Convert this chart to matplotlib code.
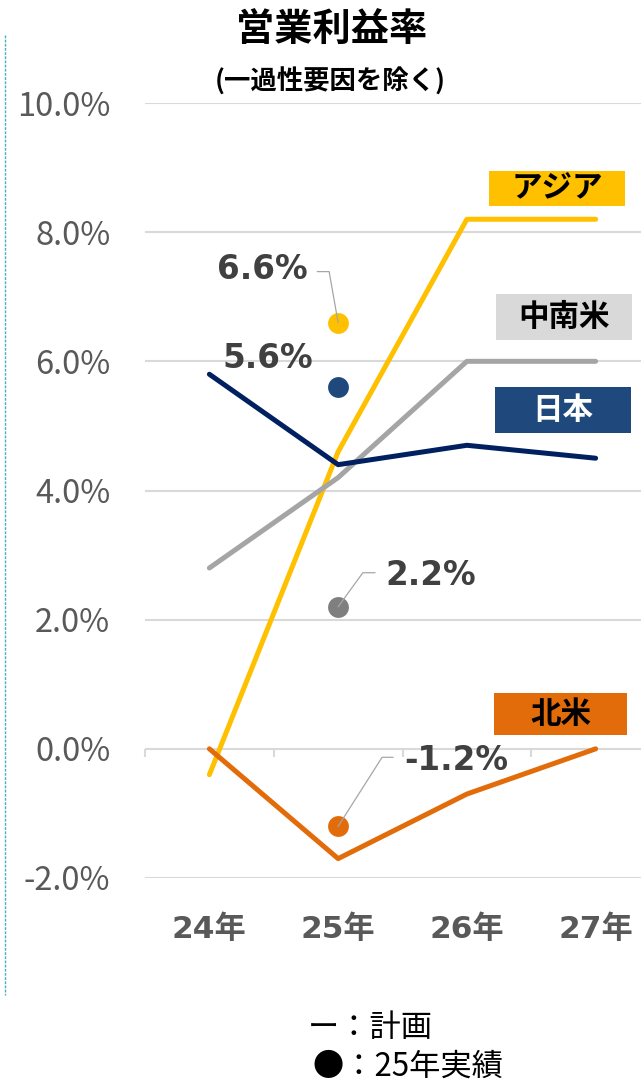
import matplotlib
matplotlib.use('Agg')
import matplotlib.pyplot as plt
from matplotlib.patches import Rectangle
from matplotlib.lines import Line2D
import numpy as np

plt.rcParams['font.family'] = ['Noto Sans CJK JP', 'DejaVu Sans']

# data
years = ['24年', '25年', '26年', '27年']
japan_plan = [5.8, 4.4, 4.7, 4.5]
asia_plan = [-0.4, 4.6, 8.2, 8.2]
latam_plan = [2.8, 4.2, 6.0, 6.0]
na_plan = [0.0, -1.7, -0.7, 0.0]

# 25年実績
actual_names = ['アジア', '日本', '中南米', '北米']
actual_vals = [6.6, 5.6, 2.2, -1.2]

yticks = [-2, 0, 2, 4, 6, 8, 10]

W, H = 641, 1082
fig = plt.figure(figsize=(W / 100, H / 100), dpi=100)
ax = fig.add_axes([145 / W, (H - 878) / H, (660 - 145) / W, (878 - 103) / H])
ax.set_xlim(-0.5, 3.5)
ax.set_ylim(-2, 10)

x = np.arange(len(years))

# gridlines
ax.set_yticks(yticks)
ax.set_yticklabels([f'{v:.1f}%' for v in yticks], fontsize=23.5, color='#595959')
ax.tick_params(axis='y', length=0, pad=25)
ax.grid(axis='y', color='#D9D9D9', lw=1.5)
ax.set_axisbelow(True)
for s in ax.spines.values():
    s.set_visible(False)

# category tick marks on the 0 line
ax.spines['bottom'].set_position(('data', 0))
ax.set_xticks(np.arange(-0.5, len(years), 1.0))
ax.set_xticklabels([])
ax.tick_params(axis='x', length=6, width=1.5, color='#D9D9D9', direction='out')
for i, lbl in enumerate(years):
    ax.annotate(lbl, xy=(i, -2), xytext=(0, -37), textcoords='offset points',
                ha='center', va='center', fontsize=22.5, fontweight='bold',
                color='#595959', family=['DejaVu Sans', 'Noto Sans CJK JP'],
                annotation_clip=False)

# plan lines
ax.plot(x, asia_plan, color='#FFC000', lw=3.6, solid_capstyle='round', zorder=3)
ax.plot(x, latam_plan, color='#A5A5A5', lw=3.6, solid_capstyle='round', zorder=3)
ax.plot(x, japan_plan, color='#002060', lw=3.6, solid_capstyle='round', zorder=3)
ax.plot(x, na_plan, color='#E36C0A', lw=3.6, solid_capstyle='round', zorder=3)

# 25年 actual dots
dot_colors = ['#FFC000', '#1F497D', '#7F7F7F', '#E36C0A']
for v, c in zip(actual_vals, dot_colors):
    ax.plot(1, v, 'o', color=c, ms=15, mec='none', zorder=4)

# leader lines (offset end, angle toward dot)
leaders = {0: ((-15.1, 36.7), 100), 2: ((26.6, 24.5), 54), 3: ((39.6, 49.7), 57.5)}
for k, (off, ang) in leaders.items():
    ax.annotate('', xy=(1, actual_vals[k]), xytext=off, textcoords='offset points',
                arrowprops=dict(arrowstyle='-', color='#A6A6A6', lw=0.9,
                                shrinkA=0, shrinkB=0,
                                connectionstyle=f'angle,angleA=0,angleB={ang},rad=0'),
                zorder=5)

label_pos = [((-22, 38.5), 'right'), ((-18, 20.5), 'right'),
             ((33.8, 22.5), 'left'), ((47.5, 47.5), 'left')]
for v, (off, ha) in zip(actual_vals, label_pos):
    ax.annotate(f'{v:.1f}%', xy=(1, v), xytext=off, textcoords='offset points',
                ha=ha, va='center', fontsize=23.5, fontweight='bold', color='#404040',
                family=['DejaVu Sans'], zorder=6)

# series name boxes (pixel boxes: x0, top, x1, bottom)
boxes = [('アジア', (489, 171, 625, 206), '#FFC000', 'black'),
         ('中南米', (496, 294, 632, 340), '#D9D9D9', 'black'),
         ('日本', (495, 387, 631, 433), '#1F497D', 'white'),
         ('北米', (494, 693, 627, 735), '#E36C0A', 'black')]
for name, (x0, t, x1, b), fc, tc in boxes:
    fig.add_artist(Rectangle((x0 / W, 1 - b / H), (x1 - x0) / W, (b - t) / H,
                             transform=fig.transFigure, facecolor=fc, edgecolor='none'))
    fig.text((x0 + x1) / 2 / W, 1 - (t + b) / 2 / H, name, ha='center', va='center',
             fontsize=22, fontweight='bold', color=tc)

# titles
fig.text(332 / W, 1 - 30 / H, '営業利益率', ha='center', va='center',
         fontsize=27.5, fontweight='bold')
fig.text(330 / W, 1 - 82 / H, '(一過性要因を除く)', ha='center', va='center',
         fontsize=19, fontweight='bold')

# legend note
fig.text(308 / W, 1 - 1028 / H, 'ー：計画', ha='left', va='center', fontsize=22.5)
fig.text(313 / W, 1 - 1067 / H, '●：25年実績', ha='left', va='center', fontsize=22.5)

# dotted frame line at left
fig.add_artist(Line2D([5 / W, 5 / W], [1 - 35 / H, 1 - 995 / H], transform=fig.transFigure,
                      color='#4BACC6', lw=1, ls=(0, (2, 1))))

fig.savefig('out.png', dpi=100)
